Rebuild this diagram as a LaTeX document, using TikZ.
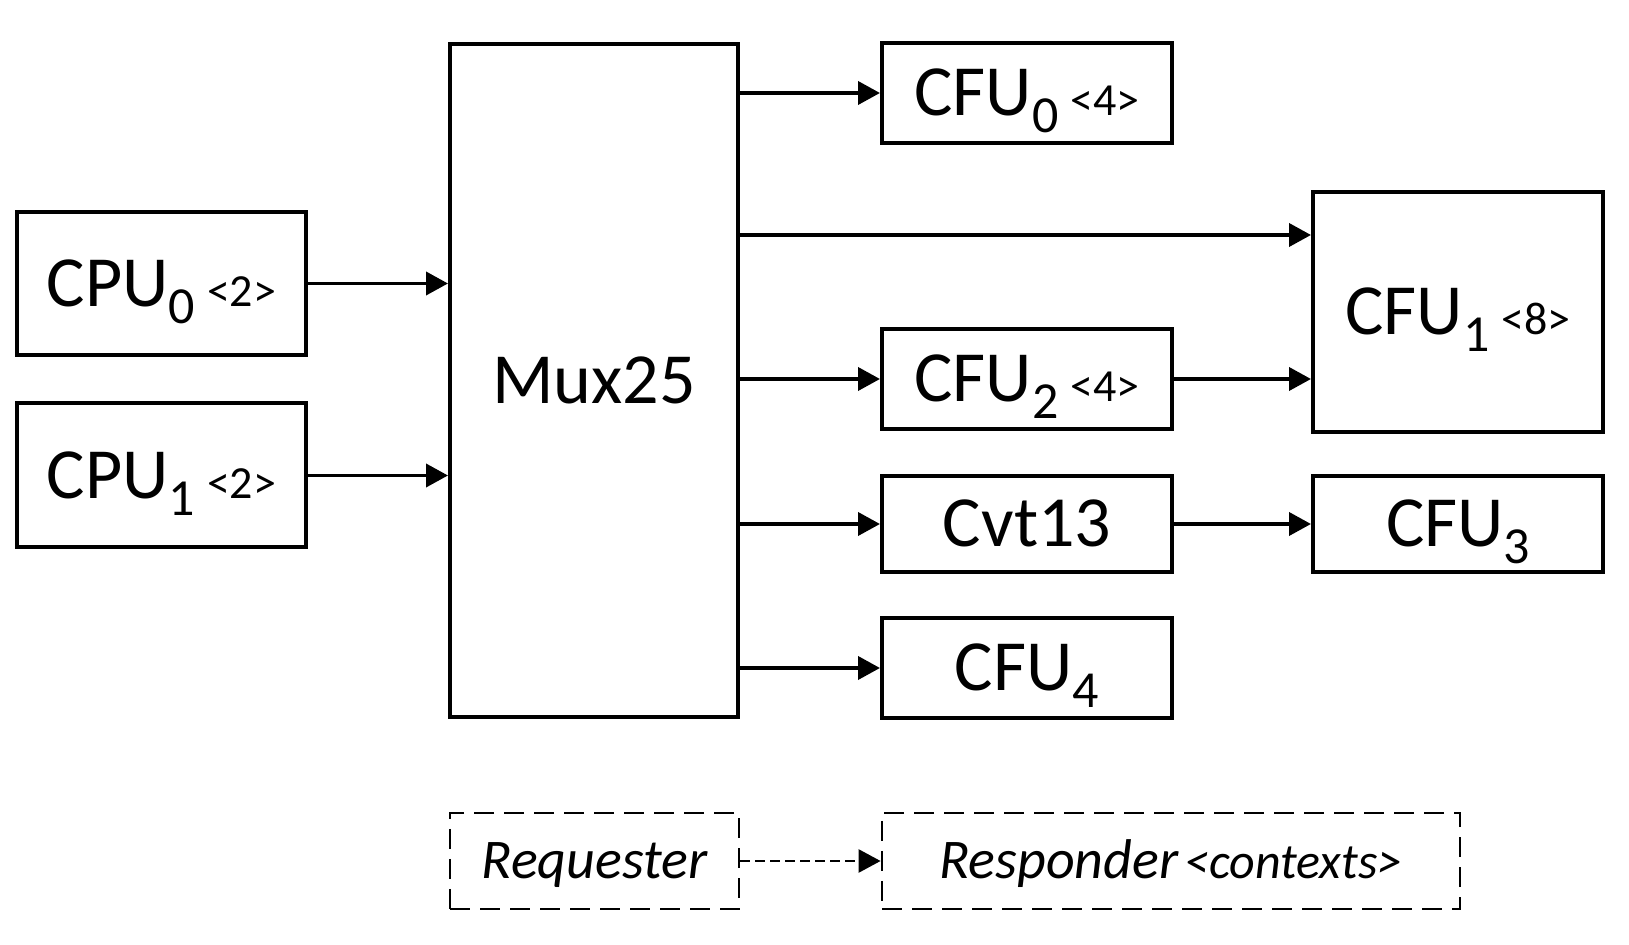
\documentclass[tikz,border=0pt]{standalone}
\usepackage{fontspec}
\setmainfont{Carlito}
\usetikzlibrary{arrows.meta}
% unit label: name, index, contexts
\newcommand{\unitname}[3]{#1\raisebox{-8.5pt}[0pt][0pt]{\fontsize{26}{26}\selectfont #2}\hspace{6pt}{\fontsize{23}{23}\selectfont <#3>}}
\newcommand{\unitsub}[2]{#1\raisebox{-8.5pt}[0pt][0pt]{\fontsize{26}{26}\selectfont #2}}
\tikzset{
  unitbox/.style={draw, line width=2pt, inner sep=0pt, align=center,
    font=\fontsize{36}{40}\selectfont, text height=23pt, text depth=0pt},
  keybox/.style={draw, line width=1.4pt, dash pattern=on 10pt off 5pt, inner sep=0pt,
    font=\fontsize{28}{32}\selectfont\itshape, text height=18pt, text depth=0pt},
  link/.style={line width=1.9pt, -{Triangle[length=11pt,width=11.5pt]}},
  keylink/.style={line width=1.3pt, dash pattern=on 5pt off 2.5pt, -{Triangle[length=11pt,width=11.5pt]}}
}
\begin{document}
\begin{tikzpicture}[x=0.5pt, y=-0.5pt]
\useasboundingbox (0,0) rectangle (1629,945);
% requesters
\node[unitbox, minimum width=144.5pt, minimum height=71.5pt] (cpu0) at (161.5,283.5) {\unitname{CPU}{0}{2}};
\node[unitbox, minimum width=144.5pt, minimum height=72pt] (cpu1) at (161.5,475.5) {\unitname{CPU}{1}{2}};
% mux
\node[unitbox, minimum width=144pt, minimum height=336.5pt] (mux) at (594,380.5) {Mux25};
% responders
\node[unitbox, minimum width=145pt, minimum height=50pt] (cfu0) at (1027,93) {\unitname{CFU}{0}{4}};
\node[unitbox, minimum width=145pt, minimum height=120pt] (cfu1) at (1458,312) {\unitname{CFU}{1}{8}};
\node[unitbox, minimum width=145pt, minimum height=50pt] (cfu2) at (1027,379) {\unitname{CFU}{2}{4}};
\node[unitbox, minimum width=145pt, minimum height=48pt] (cvt) at (1027,524) {Cvt13};
\node[unitbox, minimum width=145pt, minimum height=48pt] (cfu3) at (1458,524) {\unitsub{CFU}{3}};
\node[unitbox, minimum width=145pt, minimum height=50pt] (cfu4) at (1027,668) {\unitsub{CFU}{4}};
% legend
\node[keybox, minimum width=144.5pt, minimum height=48pt] (req) at (594.5,861) {Requester};
\node[keybox, minimum width=289pt, minimum height=48pt] (resp) at (1171,861) {Responder\hspace{3pt}{\fontsize{25}{25}\selectfont <contexts>}};
\coordinate (in1) at ([yshift=38.5pt]cfu1.west);
% connectors
\draw[link] (cpu0) -- (cpu0 -| mux.west);
\draw[link] (cpu1) -- (cpu1 -| mux.west);
\draw[link] (cfu0 -| mux.east) -- (cfu0);
\draw[link] (in1 -| mux.east) -- (in1);
\draw[link] (cfu2 -| mux.east) -- (cfu2);
\draw[link] (cfu2) -- (cfu2 -| cfu1.west);
\draw[link] (cvt -| mux.east) -- (cvt);
\draw[link] (cvt) -- (cfu3);
\draw[link] (cfu4 -| mux.east) -- (cfu4);
\draw[keylink] (req) -- (resp);
\end{tikzpicture}
\end{document}
